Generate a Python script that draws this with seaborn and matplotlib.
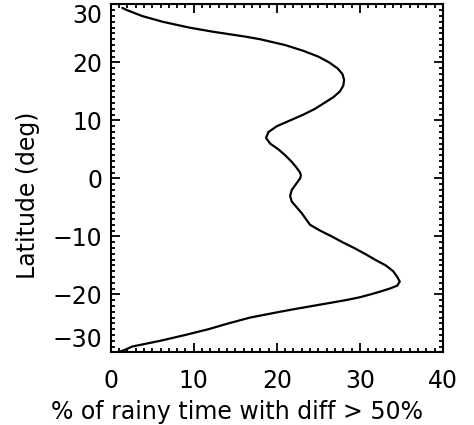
import numpy as np
import pandas as pd
import matplotlib
matplotlib.use("Agg")
import matplotlib.pyplot as plt
import seaborn as sns
from matplotlib.ticker import MultipleLocator

# profile: latitude (deg) vs % of rainy time with diff > 50%
lat = [29.4, 29.0, 28.0, 27.0, 26.0, 25.3, 24.5, 24.0, 23.5, 23.0, 22.0, 21.0,
       20.0, 19.0, 18.0, 17.0, 16.0, 15.0, 14.0, 13.0, 12.0, 11.0, 10.0, 9.0,
       8.0, 7.0, 6.0, 5.0, 4.0, 3.0, 2.0, 1.0, 0.5, 0.0, -1.0, -2.0, -3.0,
       -4.0, -5.0, -6.0, -7.0, -8.0, -9.0, -10.0, -11.0, -12.0, -13.0, -14.0,
       -15.0, -16.0, -17.0, -17.8, -18.5, -19.0, -19.5, -20.0, -20.5, -21.0,
       -21.5, -22.0, -22.5, -23.0, -24.0, -25.0, -26.0, -27.0, -28.0, -29.0,
       -29.7, -30.0]
pct = [1.4, 2.0, 3.8, 6.3, 9.5, 12.3, 16.0, 18.0, 19.5, 21.0, 23.2, 25.0,
       26.3, 27.3, 27.9, 28.1, 28.0, 27.6, 26.8, 25.7, 24.6, 23.2, 21.6, 20.0,
       19.0, 18.7, 19.2, 20.2, 21.0, 21.7, 22.3, 22.8, 22.9, 22.8, 22.3, 21.8,
       21.6, 21.8, 22.4, 23.0, 23.5, 24.0, 25.2, 26.6, 27.9, 29.3, 30.6, 31.8,
       33.1, 34.0, 34.5, 34.8, 34.5, 33.6, 32.5, 31.3, 30.0, 28.3, 26.3, 24.3,
       22.3, 20.4, 16.8, 14.2, 11.8, 9.0, 6.0, 2.6, 1.5, 0.8]

xticks = [0, 10, 20, 30, 40]
yticks = [-30, -20, -10, 0, 10, 20, 30]

df = pd.DataFrame({"lat": lat, "pct": pct})

sns.set_style("ticks")
plt.rcParams["font.family"] = ["DejaVu Sans"]
plt.rcParams["text.color"] = "black"
plt.rcParams["axes.labelcolor"] = "black"
plt.rcParams["xtick.color"] = "black"
plt.rcParams["ytick.color"] = "black"

fig = plt.figure(figsize=(4.74, 4.25), dpi=100)
ax = fig.add_axes([0.2335, 0.171, 0.701, 0.8185])

sns.lineplot(data=df, x="pct", y="lat", sort=False, estimator=None,
             color="black", linewidth=1.6, ax=ax)

ax.set_xlim(0, 40)
ax.set_ylim(-30, 30)
ax.set_xticks(xticks)
ax.set_yticks(yticks)
ax.xaxis.set_minor_locator(MultipleLocator(1))
ax.yaxis.set_minor_locator(MultipleLocator(1))
ax.tick_params(which="both", direction="in", top=True, right=True,
               color="black", labelcolor="black", labelsize=17, width=1.3)
ax.tick_params(which="major", length=6.5)
ax.tick_params(which="minor", length=3)
ax.tick_params(axis="x", which="major", pad=12)
ax.tick_params(axis="y", which="major", pad=6)
for s in ax.spines.values():
    s.set_linewidth(1.5)
    s.set_color("black")

labs = ax.get_yticklabels()
labs[0].set_va("bottom")
labs[-1].set_va("top")

ax.set_xlabel("% of rainy time with diff > 50%", fontsize=17, color="black")
ax.set_ylabel("Latitude (deg)", fontsize=17, color="black")
ax.xaxis.set_label_coords(0.3816, -0.138)
ax.yaxis.set_label_coords(-0.213, 0.452)

fig.savefig("out.png", dpi=100, facecolor="white")
